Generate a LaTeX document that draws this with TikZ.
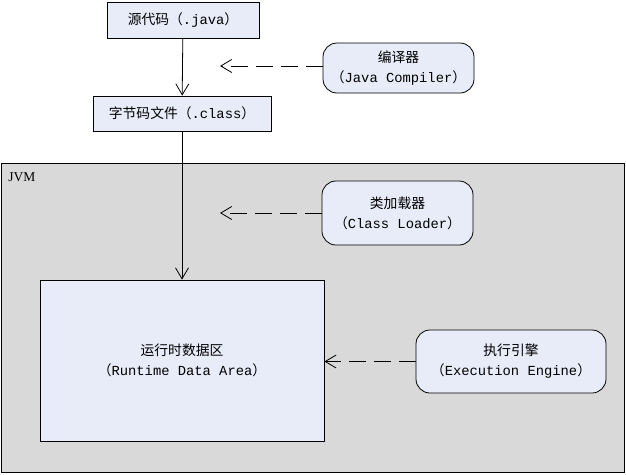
\documentclass[tikz,border=0pt]{standalone}
\usepackage{fontspec}
\setmainfont{Liberation Mono}
\newfontfamily\cjk{Noto Sans CJK SC}
\newfontfamily\jvmfont{Liberation Serif}
\usepackage{tikz}
\usetikzlibrary{positioning,shapes,arrows.meta,calc}
\definecolor{boxblue}{RGB}{232,236,248}
\definecolor{jvmgray}{RGB}{217,217,217}
\newcommand{\zh}[1]{{\cjk #1}}
\tikzset{%
	block/.style    = {draw, rectangle, fill=boxblue, inner sep=0pt,
		font=\fontsize{13.8}{20}\selectfont, align=center},
	tool/.style     = {block, rounded corners=14pt},
	hint/.style     = {->, dash pattern=on 17pt off 8pt}
}

\begin{document}
\begin{tikzpicture}[x=1pt, y=-1pt, line width=0.8pt,
          >={Straight Barb[length=11pt,width=13pt]}]
        \useasboundingbox (0,0) rectangle (626,474);
        \draw
            node at (312.5,317.5)[draw, fill=jvmgray, minimum width=623pt, minimum height=309pt, name=jvm]{}
            node at (183,20)[block, minimum width=152pt, minimum height=36pt, name=src]{\zh{源代码（}.java\zh{）}}
            node at (182,113.5)[block, minimum width=178pt, minimum height=35pt, name=cls]{\zh{字节码文件（}.class\zh{）}}
            node at (398.5,68)[tool, minimum width=151pt, minimum height=50pt, name=javac]{\zh{编译器}\\\zh{（}Java Compiler\zh{）}}
            node at (397.5,213)[tool, minimum width=151pt, minimum height=64pt, name=loader]{\zh{类加载器}\\\zh{（}Class Loader\zh{）}}
            node at (182,360.5)[block, minimum width=284pt, minimum height=161pt, name=rda]{\zh{运行时数据区}\\\zh{（}Runtime Data Area\zh{）}}
            node at (511,361.5)[tool, minimum width=190pt, minimum height=63pt, name=engine]{\zh{执行引擎}\\\zh{（}Execution Engine\zh{）}};

            \node [anchor=north west, inner sep=0pt, font=\jvmfont\fontsize{13.5}{16}\selectfont] (jvmlabel) at (8,172) {JVM};

            \coordinate (javacend) at (220,66);
            \coordinate (loaderend) at (220,213);

            \draw[->](src) -- (cls);
            \draw[->](cls) -- (rda);

            \draw[hint](javac.west |- javacend) -- (javacend);
            \draw[hint](loader.west) -- (loaderend);
            \draw[hint](engine.west) -- (engine.west -| rda.east);
    \end{tikzpicture}
\end{document}
